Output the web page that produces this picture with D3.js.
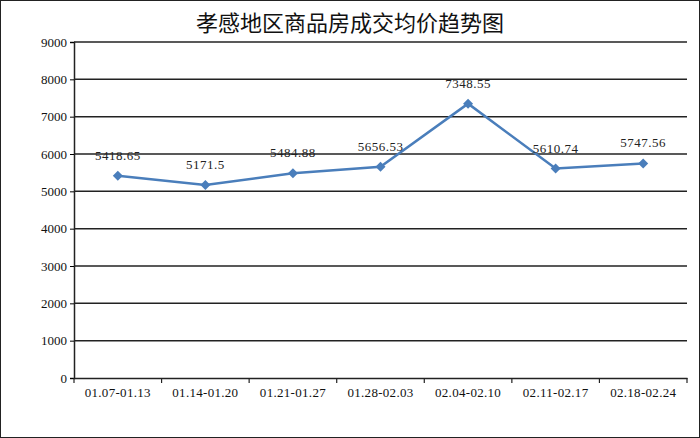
<!DOCTYPE html><html><head><meta charset="utf-8"><script src="https://cdn.jsdelivr.net/npm/d3@7"></script>
<style>body{margin:0;background:#fff}</style></head><body><svg id="c" width="700" height="438"></svg><script>
const categories=["01.07-01.13","01.14-01.20","01.21-01.27","01.28-02.03","02.04-02.10","02.11-02.17","02.18-02.24"];
const values=[5418.65,5171.5,5484.88,5656.53,7348.55,5610.74,5747.56];
const labels=["5418.65","5171.5","5484.88","5656.53","7348.55","5610.74","5747.56"];
const yTicks=[0,1000,2000,3000,4000,5000,6000,7000,8000,9000];
const svg=d3.select("#c");
svg.append("rect").attr("x",0.5).attr("y",0.5).attr("width",699).attr("height",437).attr("fill","#fff").attr("stroke","#222");
const L=74,R=687,T=42,B=378;
const x=d3.scaleBand().domain(categories).range([L,R]);
const y=d3.scaleLinear().domain([0,9000]).range([B,T]);
const font="'Liberation Serif','Noto Serif',serif";
svg.append("text").attr("x",350).attr("y",31).attr("text-anchor","middle").attr("font-family","'Noto Sans CJK SC'").attr("font-size",22).attr("fill","#111").text("孝感地区商品房成交均价趋势图");
svg.append("g").selectAll("line").data(yTicks.filter(d=>d>0)).join("line").attr("x1",L).attr("x2",R).attr("y1",d=>y(d)).attr("y2",d=>y(d)).attr("stroke","#222").attr("stroke-width",1.5);
const ya=svg.append("g").attr("transform",`translate(${L},0)`).call(d3.axisLeft(y).tickValues(yTicks).tickSize(4).tickFormat(d3.format("d")));
ya.select(".domain").attr("stroke","#222").attr("stroke-width",1.5);
ya.selectAll("text").attr("font-family",font).attr("font-size",13).attr("fill","#111");
const xa=svg.append("g").attr("transform",`translate(0,${B})`).call(d3.axisBottom(x).tickSize(0));
xa.select(".domain").attr("stroke","#222").attr("stroke-width",1.5);
xa.selectAll("text").attr("dy","1.25em").attr("font-family",font).attr("font-size",13).attr("letter-spacing",0.3).attr("fill","#111");
svg.append("g").selectAll("line").data(d3.range(categories.length+1)).join("line").attr("x1",i=>L+i*x.step()).attr("x2",i=>L+i*x.step()).attr("y1",B).attr("y2",B+5).attr("stroke","#222").attr("stroke-width",1.2);
const cx=d=>x(d)+x.bandwidth()/2;
svg.append("path").datum(values).attr("fill","none").attr("stroke","#4a7ebb").attr("stroke-width",2.5)
 .attr("d",d3.line().x((d,i)=>cx(categories[i])).y(d=>y(d)));
svg.append("g").selectAll("path").data(values).join("path").attr("d",d3.symbol(d3.symbolSquare,50)).attr("fill","#4a7ebb")
 .attr("transform",(d,i)=>`translate(${cx(categories[i])},${y(d)}) rotate(45)`);
svg.append("g").selectAll("text").data(values).join("text").attr("x",(d,i)=>cx(categories[i])).attr("y",d=>y(d)-16)
 .attr("text-anchor","middle").attr("font-family",font).attr("font-size",13).attr("letter-spacing",0.5).attr("fill","#222").text((d,i)=>labels[i]);
</script></body></html>
